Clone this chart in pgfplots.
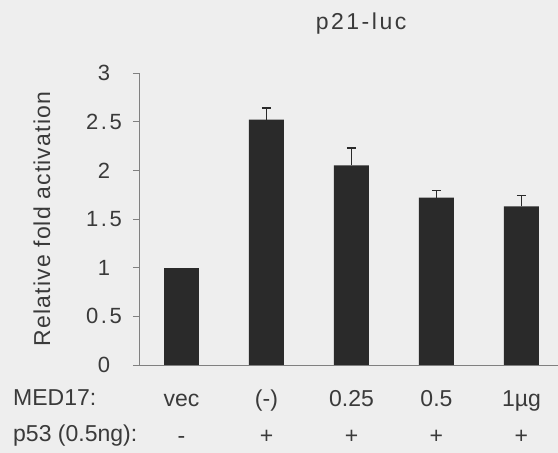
\documentclass[border=0pt]{standalone}
\usepackage{pgfplots}
\pgfplotsset{compat=1.18}
\usepackage{fontspec}
\setmainfont{Liberation Sans}
\definecolor{bg}{HTML}{EEEEEE}
\definecolor{barc}{HTML}{2A2A2A}
\definecolor{txt}{HTML}{3A3A3A}
\definecolor{axc}{HTML}{808080}
\begin{document}
\begin{tikzpicture}[x=1pt,y=1pt]
\fill[bg] (0,0) rectangle (558,453);
\useasboundingbox (0,0) rectangle (558,453);
\begin{axis}[
  at={(139pt,88pt)}, anchor=south west,
  scale only axis, width=419pt, height=292pt,
  xmin=-0.5, xmax=4.43, ymin=0, ymax=3,
  axis lines*=left,
  axis line style={axc, line width=0.9pt},
  xtick={0,1,2,3,4},
  xticklabels={{vec\\-},{(-)\\+},{0.25\\+},{0.5\\+},{1µg\\+}},
  x tick style={draw=none},
  xticklabel style={anchor=base, yshift=-73pt, align=center,
    font=\fontsize{23}{37}\selectfont, text=txt},
  ytick={0,0.5,1,1.5,2,2.5,3},
  tick align=outside, major tick length=6pt,
  y tick style={axc, line width=0.9pt},
  /pgf/number format/assume math mode=true,
  yticklabel style={anchor=center, xshift=-29pt, text=txt,
    font=\fontsize{22}{24}\selectfont\addfontfeature{LetterSpace=12}},
  ylabel={Relative fold activation},
  ylabel style={at={(axis description cs:-0.2315,0.5)}, anchor=center, text=txt,
    font=\fontsize{23}{26}\selectfont\addfontfeature{LetterSpace=5}},
  title={p21-luc},
  title style={at={(axis description cs:0.53,1.13)}, anchor=base, text=txt,
    font=\fontsize{23}{26}\selectfont\addfontfeature{LetterSpace=11}},
  clip=false,
]
\addplot[ybar, bar width=35pt, fill=barc, draw=none]
  coordinates {(0,1.00)};
\addplot[ybar, bar width=35pt, fill=barc, draw=none,
  error bars/.cd, y dir=plus, y explicit,
  error bar style={barc, line width=1.4pt},
  error mark options={rotate=90, mark size=4.5pt, line width=1.4pt, barc}]
  coordinates {
  (1,2.52) +- (0,0.12)
  (2,2.05) +- (0,0.18)
  (3,1.72) +- (0,0.07)
  (4,1.63) +- (0,0.11)
  };
\end{axis}
\node[anchor=base west, font=\fontsize{23}{26}\selectfont, text=txt, inner sep=0pt] at (13,47) {MED17:};
\node[anchor=base west, font=\fontsize{23}{26}\selectfont, text=txt, inner sep=0pt] at (13,11) {p53 (0.5ng):};
\end{tikzpicture}
\end{document}
